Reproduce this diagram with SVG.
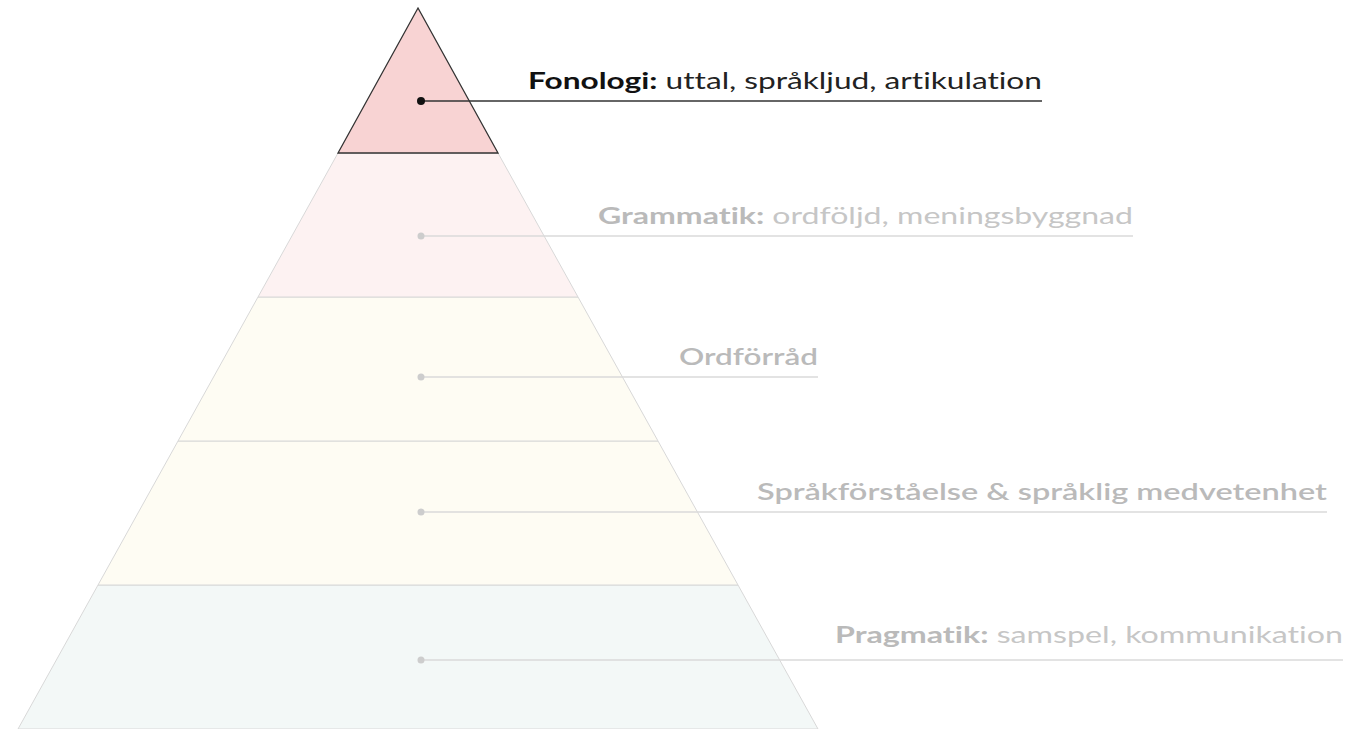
<svg xmlns="http://www.w3.org/2000/svg" width="1362" height="729" viewBox="0 0 1362 729">
<style>
.lbl{font-family:Lato,"Open Sans","Liberation Sans",sans-serif;font-size:23px;font-variant-ligatures:none;}
.b{font-weight:bold;}
.m{font-weight:600;}
.dim{fill:#c6c6c6;}
.dimb{fill:#bababa;}
.tier{stroke:#d8d8d8;stroke-width:1;}
.conn{stroke:#dadada;stroke-width:1.5;fill:none;}
.dot{fill:#cdcdcd;}
</style>
<rect width="1362" height="729" fill="#ffffff"/>
<g id="tier5"><polygon class="tier" fill="#f3f8f7" points="98,585 738,585 818,729 18,729"/></g>
<g id="tier4"><polygon class="tier" fill="#fefcf3" points="178,441 658,441 738,585 98,585"/></g>
<g id="tier3"><polygon class="tier" fill="#fefcf3" points="258,297 578,297 658,441 178,441"/></g>
<g id="tier2"><polygon class="tier" fill="#fdf2f2" points="338,153 498,153 578,297 258,297"/></g>
<g id="tier1"><polygon fill="#f8d3d3" stroke="#333333" stroke-width="1.3" points="418,8 498,153 338,153"/></g>
<g id="connectors">
<line x1="421" y1="101" x2="1042" y2="101" stroke="#333333" stroke-width="1.5"/>
<circle cx="421" cy="101" r="4" fill="#111111"/>
<line class="conn" x1="421" y1="236" x2="1133" y2="236"/>
<circle class="dot" cx="421" cy="236" r="3.5"/>
<line class="conn" x1="421" y1="377" x2="818" y2="377"/>
<circle class="dot" cx="421" cy="377" r="3.5"/>
<line class="conn" x1="421" y1="512" x2="1327" y2="512"/>
<circle class="dot" cx="421" cy="512" r="3.5"/>
<line class="conn" x1="421" y1="660" x2="1343" y2="660"/>
<circle class="dot" cx="421" cy="660" r="3.5"/>
</g>
<g id="label1"><text class="lbl" x="528" y="89" textLength="514" lengthAdjust="spacingAndGlyphs"><tspan class="b" fill="#111111">Fonologi:</tspan><tspan fill="#222222"> uttal, språkljud, artikulation</tspan></text></g>
<g id="label2"><text class="lbl" x="598" y="224" textLength="535" lengthAdjust="spacingAndGlyphs"><tspan class="b dimb">Grammatik:</tspan><tspan class="dim"> ordföljd, meningsbyggnad</tspan></text></g>
<g id="label3"><text class="lbl m dimb" x="679" y="365" textLength="139" lengthAdjust="spacingAndGlyphs">Ordförråd</text></g>
<g id="label4"><text class="lbl m dimb" x="757" y="500" textLength="570" lengthAdjust="spacingAndGlyphs">Språkförståelse &amp; språklig medvetenhet</text></g>
<g id="label5"><text class="lbl" x="835" y="643" textLength="508" lengthAdjust="spacingAndGlyphs"><tspan class="b dimb">Pragmatik:</tspan><tspan class="dim"> samspel, kommunikation</tspan></text></g>
</svg>
